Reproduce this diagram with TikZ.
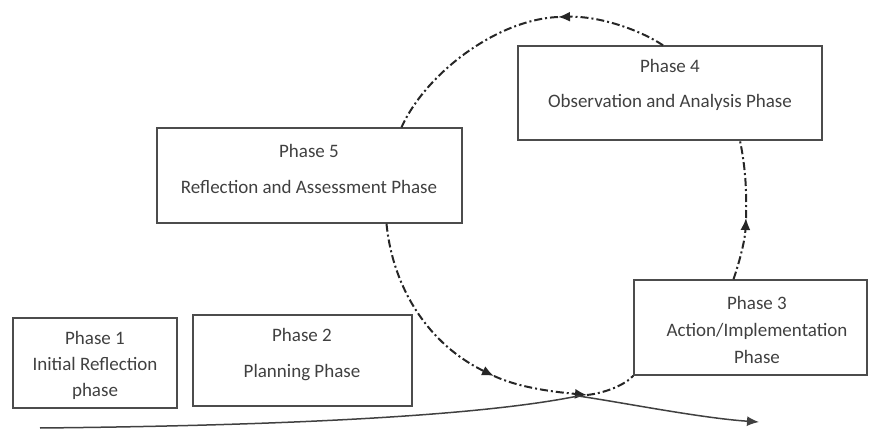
\documentclass[tikz,border=0pt]{standalone}
\usepackage{fontspec}
\setmainfont{Carlito}
\usetikzlibrary{arrows.meta,calc}
\begin{document}
\begin{tikzpicture}[x=1pt,y=-1pt,
  box/.style={draw=black!70,line width=1.4pt,inner sep=0pt},
  txt/.style={text=black!75,align=center,font=\fontsize{19}{26}\selectfont,inner sep=0pt},
  cyc/.style={draw=black!85,line width=2pt,dash pattern=on 8pt off 3pt on 2pt off 3pt},
  tip/.style={-{Latex[length=12pt,width=10pt]}},
  base/.style={draw=black!75,line width=1.5pt}]
\useasboundingbox (0,0) rectangle (870,430);
% boxes
\node[box,minimum width=304pt,minimum height=94pt] (p4) at (670,93) {};
\node[box,minimum width=305pt,minimum height=95pt] (p5) at (309.5,175.5) {};
\node[box,minimum width=233pt,minimum height=95pt] (p3) at (750.5,327.5) {};
\node[box,minimum width=164pt,minimum height=90pt] (p1) at (95,363) {};
\node[box,minimum width=219pt,minimum height=91pt] (p2) at (302.5,360.5) {};
% texts
\node[txt] (t4) at (670,85) {Phase 4\\[9pt]Observation and Analysis Phase};
\node[txt] (t5) at (309,168.5) {Phase 5\\[10pt]Reflection and Assessment Phase};
\node[txt] (t3) at (757,329.5) {Phase 3\\[1pt]Action/Implementation\\[1pt]Phase};
\node[txt] (t1) at (95,365) {Phase 1\\Initial Reflection\\phase};
\node[txt] (t2) at (302,354.5) {Phase 2\\[10pt]Planning Phase};
% cycle points
\coordinate (top) at (558,17);
\coordinate (lowA) at (494,376);
\coordinate (lowB) at (587,395);
\coordinate (rgt) at (746,218);
\coordinate (peak) at (578,396);
\coordinate (bstart) at (40,428);
\coordinate (bend) at (759,422);
% cycle arcs
\draw[cyc,tip] ($(p4.north)+(-7,0)$) .. controls (640,30) and (600,16) .. (top);
\draw[cyc] (top) .. controls (495,20) and (425,75) .. ($(p5.north)+(92,0)$);
\draw[cyc,tip] ($(p5.south)+(77,0)$) .. controls (393,290) and (430,345) .. (lowA);
\draw[cyc,tip] (lowA) .. controls (520,388) and (555,392) .. (lowB);
\draw[cyc] (lowB) .. controls (605,393) and (625,385) .. (p3.south west);
\draw[cyc,tip] ($(p3.north)+(-17,0)$) .. controls (740,260) and (745,240) .. (rgt);
\draw[cyc] (rgt) .. controls (747,190) and (745,165) .. ($(p4.south)+(70,0)$);
% base line
\draw[base] (bstart) .. controls (250,426) and (470,418) .. (peak);
\draw[base,tip] (peak) .. controls (620,402) and (700,418) .. (bend);
\end{tikzpicture}
\end{document}
